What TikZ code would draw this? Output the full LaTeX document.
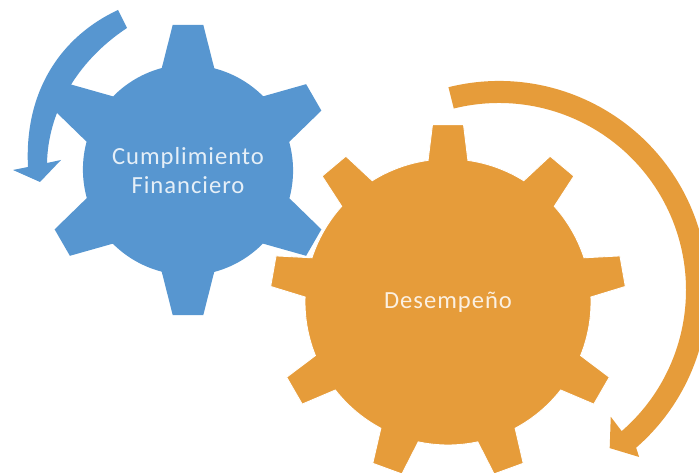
\documentclass[tikz,border=0pt]{standalone}
\usepackage{fontspec}
\setmainfont{Carlito}
\definecolor{gearblue}{RGB}{87,150,208}
\definecolor{gearorange}{RGB}{230,156,58}
\tikzset{
    geartext/.style={text=white, text opacity=0.85, align=center,
        font=\fontsize{14}{16.5}\selectfont\addfontfeature{LetterSpace=4}}
}
\begin{document}
\begin{tikzpicture}[x=0.2mm, y=0.2mm]
    \useasboundingbox (0,0) rectangle (699,473);
    % blue gear and its arrow
    \fill[gearblue, shift={(188,303)}] (105:105)
        foreach \a in {90,30,-30,-90,-150,-210} {
            -- (\a+14.5:105) -- (\a+6:146) -- (\a-6:146) -- (\a-14.5:105)
            arc[start angle=\a-14.5, end angle=\a-45.5, radius=107]
        } -- cycle;
    \fill[gearblue] (118,463) .. controls (62,437) and (24,383) .. (28,306)
        -- (13,303) -- (40,291) -- (61,313) -- (47,310)
        .. controls (48,358) and (74,410) .. (127,445) -- cycle;
    % orange gear and its arrow
    \fill[gearorange, draw=white, line width=0.5pt, shift={(448,171)}] (98:143)
        foreach \a in {90,50,10,-30,-70,-110,-150,-190,-230} {
            -- (\a+8:143) -- (\a+5:178) -- (\a-5:178) -- (\a-8:143)
            arc[start angle=\a-8, end angle=\a-32, radius=143]
        } -- cycle;
    \fill[gearorange, shift={(499,183)}] (104:209)
        arc[start angle=104, end angle=-49, radius=209]
        -- (-50:218) -- (-55:193) -- (-48.6:169) -- (-49:187)
        arc[start angle=-49, end angle=104, radius=187] -- cycle;
    \node[geartext] (cumplimiento) at (188,302) {Cumplimiento\\Financiero};
    \node[geartext] (desempeno) at (448,171) {Desempeño};
\end{tikzpicture}
\end{document}
